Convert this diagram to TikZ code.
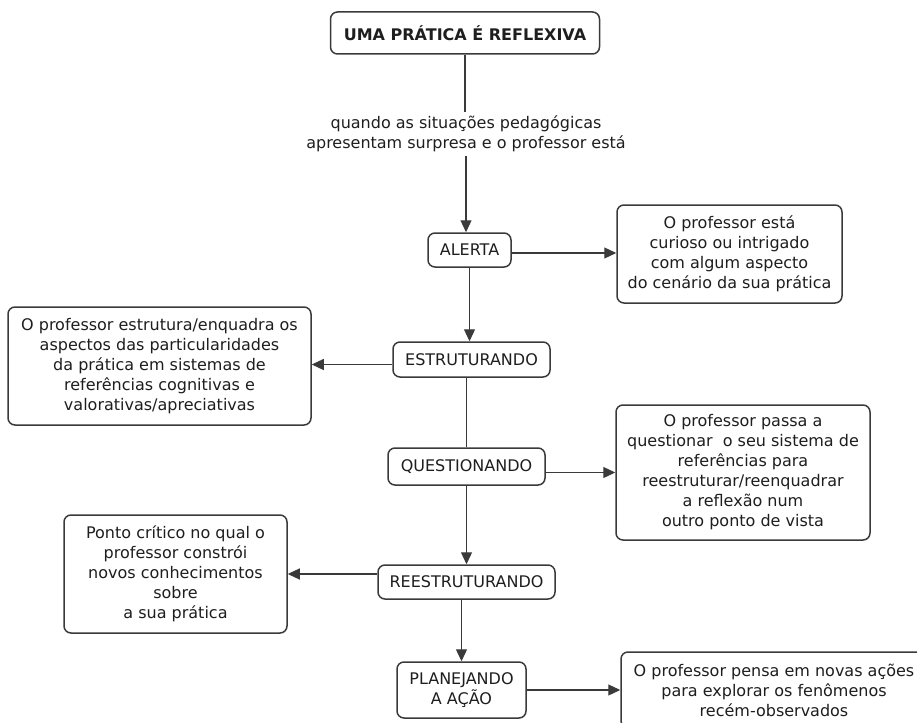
\documentclass[tikz,border=0pt]{standalone}
\usepackage{fontspec}
\setmainfont{DejaVu Sans}
\usetikzlibrary{arrows.meta,positioning}
\definecolor{linegray}{HTML}{3A3A3A}
\definecolor{textgray}{HTML}{1E1E1E}
\tikzset{
  box/.style={draw=linegray,line width=1.5pt,rounded corners=7pt,align=center,inner sep=2pt,fill=white},
  arr/.style={draw=linegray,line width=1.2pt,-{Triangle[length=12pt,width=11pt]}},
  ln/.style={draw=linegray,line width=1.2pt},
}
\begin{document}
\begin{tikzpicture}[x=1pt,y=-1pt,font=\fontsize{16}{20}\selectfont,text=textgray]
    \useasboundingbox (0,0) rectangle (917,722);
    % concepts down the middle
    \node[box,minimum width=269pt,minimum height=42pt,font=\fontsize{16}{20}\selectfont\bfseries] (top) at (465,33) {UMA PRÁTICA É REFLEXIVA};
    \node[align=center] (lbl) at (466,134) {quando as situações pedagógicas\\apresentam surpresa e o professor está};
    \node[box,minimum width=83pt,minimum height=34pt] (alerta) at (469.5,250) {ALERTA};
    \node[box,minimum width=157pt,minimum height=35pt] (estr) at (471.5,359.5) {ESTRUTURANDO};
    \node[box,minimum width=157pt,minimum height=37pt] (quest) at (466.5,466.5) {QUESTIONANDO};
    \node[box,minimum width=177pt,minimum height=34pt] (reestr) at (466.5,582) {REESTRUTURANDO};
    \node[box,minimum width=129pt,minimum height=56pt] (plan) at (461.5,690) {PLANEJANDO\\A AÇÃO};
    % side boxes
    \node[box,minimum width=225pt,minimum height=98pt] (r1) at (729.5,254) {O professor está\\curioso ou intrigado\\com algum aspecto\\do cenário da sua prática};
    \node[box,minimum width=303pt,minimum height=118pt] (l1) at (159.5,366) {O professor estrutura/enquadra os\\aspectos das particularidades\\da prática em sistemas de\\referências cognitivas e\\valorativas/apreciativas};
    \node[box,minimum width=254pt,minimum height=135pt] (r2) at (743,472.5) {O professor passa a\\questionar\ \ o seu sistema de\\referências para\\reestruturar/reenquadrar\\a reflexão num\\outro ponto de vista};
    \node[box,minimum width=223pt,minimum height=118pt] (l2) at (175.5,574) {Ponto crítico no qual o\\professor constrói\\novos conhecimentos\\sobre\\a sua prática};
    \node[box,minimum width=306pt,minimum height=76pt] (r3) at (774,690) {O professor pensa em novas ações\\para explorar os fenômenos\\recém-observados};
    % links
    \draw[ln] (top.south) -- (top.south |- lbl.north);
    \draw[arr] (lbl.south) -- (lbl.south |- alerta.north);
    \draw[arr] ([yshift=-3pt]alerta.east) -- ([yshift=-3pt]alerta.east -| r1.west);
    \draw[arr] (alerta.south) -- (alerta.south |- estr.north);
    \draw[arr] ([yshift=-5pt]estr.west) -- ([yshift=-5pt]estr.west -| l1.east);
    \draw[ln] (quest.north |- estr.south) -- (quest.north);
    \draw[arr] ([yshift=-6pt]quest.east) -- ([yshift=-6pt]quest.east -| r2.west);
    \draw[arr] (quest.south) -- (quest.south |- reestr.north);
    \draw[arr] ([yshift=8pt]reestr.west) -- ([yshift=8pt]reestr.west -| l2.east);
    \draw[arr] (plan.north |- reestr.south) -- (plan.north);
    \draw[arr] (plan.east) -- (plan.east -| r3.west);
\end{tikzpicture}
\end{document}
